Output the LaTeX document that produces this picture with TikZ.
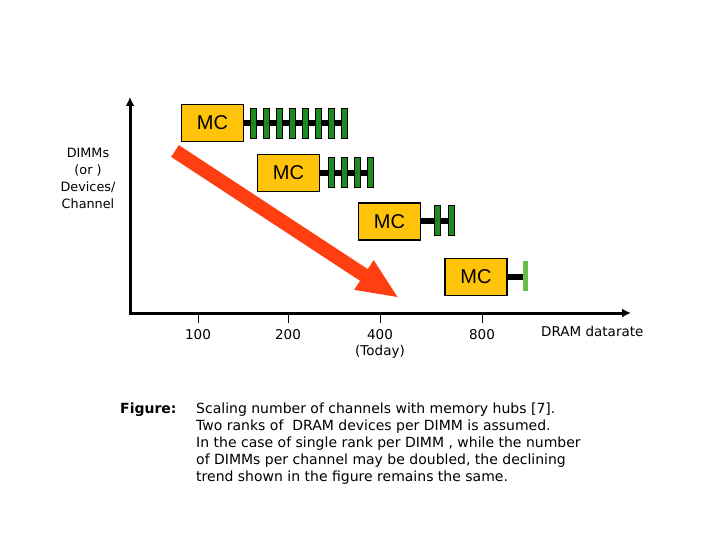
\documentclass[tikz,border=0pt]{standalone}
\usepackage{fontspec}
\setmainfont{DejaVu Sans}
\newfontfamily\mcfont{Liberation Sans}
\usepackage{xcolor}
\usetikzlibrary{arrows.meta}

\definecolor{mcyellow}{RGB}{255,196,10}
\definecolor{dimmgreen}{RGB}{28,138,28}
\definecolor{dimmlight}{RGB}{104,190,72}
\definecolor{trendred}{RGB}{255,62,18}

\begin{document}
\begin{tikzpicture}[x=1pt, y=-1pt,
    mc/.style={draw, line width=1.4pt, fill=mcyellow, minimum width=62pt, minimum height=37pt,
               inner sep=0pt, font=\mcfont\fontsize{20}{22}\selectfont},
    dimm/.style={draw, line width=0.6pt, fill=dimmgreen, minimum width=6pt, minimum height=30pt, inner sep=0pt},
    bus/.style={line width=6pt},
    axislabel/.style={font=\fontsize{13.5}{17}\selectfont, inner sep=0pt}]
\useasboundingbox (0,0) rectangle (720,540);

% axes
\coordinate (origin) at (130,313);
\coordinate (ytop) at (130,97);
\coordinate (xend) at (631,313);
\draw[line width=3pt, -{Latex[length=9pt,width=9pt]}] ([yshift=1.5pt]origin) -- (ytop);
\draw[line width=3pt, -{Latex[length=9pt,width=9pt]}] ([xshift=-1.5pt]origin) -- (xend);

% ticks and datarates
\foreach \x/\rate in {198/100, 288/200, 380/400, 482/800} {
    \coordinate (tick\rate) at (\x,313);
    \draw[thick] (tick\rate) -- ++(0,10);
    \node[axislabel] (rate\rate) at (\x,335) {\rate};
}
\node[axislabel, below=5pt] (today) at (rate400.south) {(Today)};
\node[axislabel, anchor=west] (xlabel) at (541,331) {DRAM datarate};
\node[axislabel, font=\fontsize{12.8}{17}\selectfont, align=center] (ylabel) at (88,178) {DIMMs\\(or )\\Devices/\\Channel};

% memory controllers
\node[mc] (mc1) at (212.5,123) {MC};
\node[mc] (mc2) at (288.5,173) {MC};
\node[mc] (mc3) at (389.5,221.5) {MC};
\node[mc] (mc4) at (476,277) {MC};

% channel buses
\coordinate (bus1) at (348,123);
\coordinate (bus2) at (372,173);
\coordinate (bus3) at (454,221.5);
\coordinate (bus4) at (525,277);
\foreach \n in {1,2,3,4}
    \draw[bus] (mc\n) -- (bus\n);

% DIMMs per channel
\foreach \i in {0,...,7}
    \node[dimm] (dA\i) at (253+\i*13.1,123) {};
\foreach \i in {0,...,3}
    \node[dimm] (dB\i) at (331.5+\i*12.8,172) {};
\foreach \i in {0,1}
    \node[dimm] (dC\i) at (437.5+\i*14,220.5) {};
\node[dimm, fill=dimmlight, draw=none, minimum width=5pt] (dD0) at (525,276) {};

% declining trend
\coordinate (trendstart) at (175,151);
\coordinate (trendend) at (399,298);
\draw[trendred, line width=14pt, -{Triangle[length=42pt,width=32pt]}] (trendstart) -- (trendend);

% caption
\node[font=\bfseries\fontsize{14}{17}\selectfont, anchor=north west, inner sep=0pt] (figlab) at (120,403) {Figure:};
\node[font=\fontsize{14}{17}\selectfont, anchor=north west, align=left, inner sep=0pt] (caption) at (196,403)
    {Scaling number of channels with memory hubs [7].\\
     Two ranks of\ \ DRAM devices per DIMM is assumed.\\
     In the case of single rank per DIMM , while the number\\
     of DIMMs per channel may be doubled, the declining\\
     trend shown in the figure remains the same.};
\end{tikzpicture}
\end{document}
